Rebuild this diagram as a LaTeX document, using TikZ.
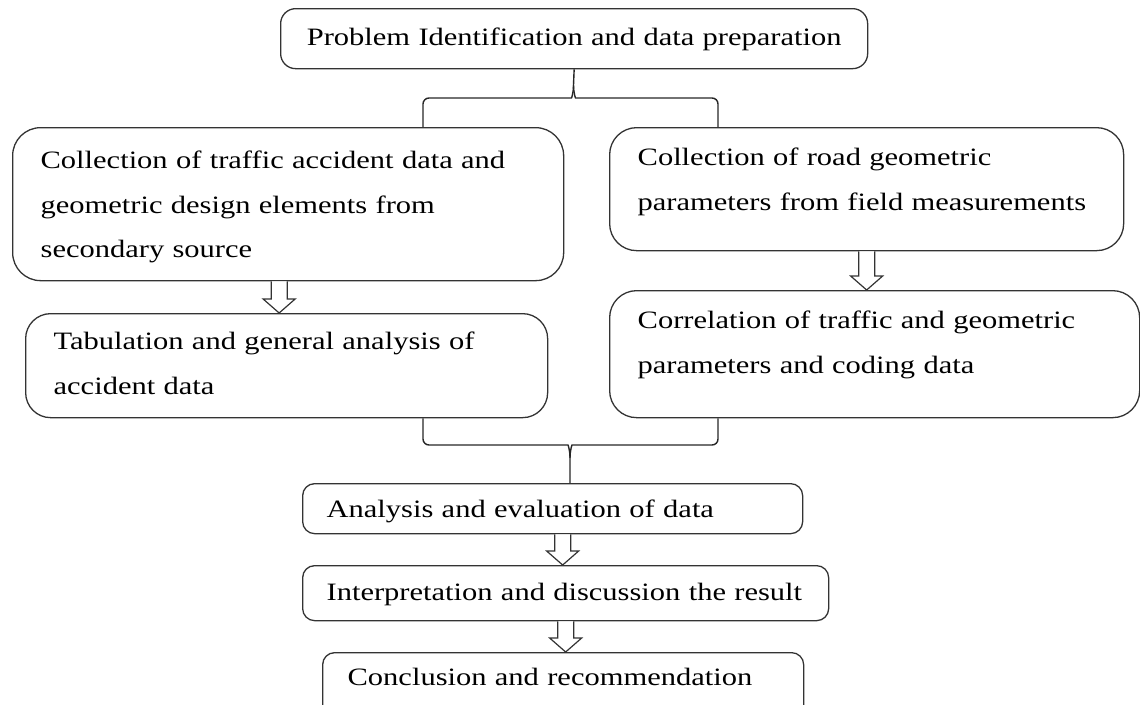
\documentclass[tikz,border=0pt]{standalone}
\usepackage{fontspec}
\setmainfont{Liberation Serif}[FakeStretch=1.22]
\usetikzlibrary{calc}
\newcommand{\hollowarrow}[2]{%
  \draw[blockarrow] let \p1=(#1), \p2=(#2) in
    (\x1-8pt,\y1) -- (\x1-8pt,\y2+14pt) -- (\x1-16pt,\y2+14pt) -- (\x1,\y2)
    -- (\x1+16pt,\y2+14pt) -- (\x1+8pt,\y2+14pt) -- (\x1+8pt,\y1);}

\begin{document}
\begin{tikzpicture}[x=1pt, y=-1pt,
  every node/.style={font=\fontsize{25}{44.5}\selectfont},
  stage/.style={draw=black!80, line width=1.3pt, anchor=north west, align=left, inner ysep=0pt, inner xsep=28pt},
  small/.style={stage, rounded corners=12pt, inner xsep=24pt},
  link/.style={draw=black!85, line width=1.4pt},
  blockarrow/.style={draw=black!80, line width=1.2pt, fill=white}]
  \useasboundingbox (0,0) rectangle (1140,704);

  % Top of the flow
  \node[stage, rounded corners=15pt, align=center, inner xsep=0pt, text width=587pt, text height=37pt, text depth=23pt] (prob) at (280,8)
    {Problem Identification and data preparation};

  % Two branches
  \node[stage, rounded corners=28pt, text width=495pt, text height=41pt, text depth=112pt] (accdata) at (12,127)
    {Collection of traffic accident data and\\geometric design elements from\\secondary source};
  \node[stage, rounded corners=27pt, text width=458pt, text height=38pt, text depth=85pt] (roadgeo) at (609,127)
    {Collection of road geometric\\parameters from field measurements};
  \node[stage, rounded corners=25pt, text width=466pt, text height=36pt, text depth=68pt] (tabul) at (25,313)
    {Tabulation and general analysis of\\accident data};
  \node[stage, rounded corners=27pt, text width=474pt, text height=38pt, text depth=89pt] (corr) at (609,290)
    {Correlation of traffic and geometric\\parameters and coding data};

  % Final steps
  \node[small, text width=452pt, text height=34pt, text depth=16pt] (anal) at (302,483)
    {Analysis and evaluation of data};
  \node[small, text width=478pt, text height=35pt, text depth=20pt] (interp) at (302,565)
    {Interpretation and discussion the result};
  \node[small, inner xsep=25pt, text width=431pt, text height=33pt, text depth=37pt] (concl) at (322,652)
    {Conclusion and recommendation};

  % Braces
  \coordinate (bl) at (423,0);
  \coordinate (br) at (718,0);
  \coordinate (ts) at (573.5,98);
  \coordinate (bs) at (570,445);
  \draw[link] (accdata.north -| bl) [rounded corners=6pt] |- ($(ts)+(-8,0)$) [sharp corners]
    .. controls ($(ts)+(-2,0)$) and ($(ts)+(0,-5)$) .. ($(ts)+(0,-13)$) -- (prob.south);
  \draw[link] (roadgeo.north -| br) [rounded corners=6pt] |- ($(ts)+(8,0)$) [sharp corners]
    .. controls ($(ts)+(2,0)$) and ($(ts)+(0,-5)$) .. ($(ts)+(0,-13)$);
  \draw[link] (tabul.south -| bl) [rounded corners=6pt] |- ($(bs)+(-8,0)$) [sharp corners]
    .. controls ($(bs)+(-2,0)$) and ($(bs)+(0,5)$) .. ($(bs)+(0,13)$) -- (anal.north -| bs);
  \draw[link] (corr.south -| br) [rounded corners=6pt] |- ($(bs)+(8,0)$) [sharp corners]
    .. controls ($(bs)+(2,0)$) and ($(bs)+(0,5)$) .. ($(bs)+(0,13)$);

  % Arrows
  \hollowarrow{$(accdata.south)+(-9,0)$}{tabul.north}
  \hollowarrow{roadgeo.south}{corr.north}
  \hollowarrow{$(anal.south)+(10,0)$}{interp.north}
  \hollowarrow{interp.south}{concl.north}
\end{tikzpicture}
\end{document}
